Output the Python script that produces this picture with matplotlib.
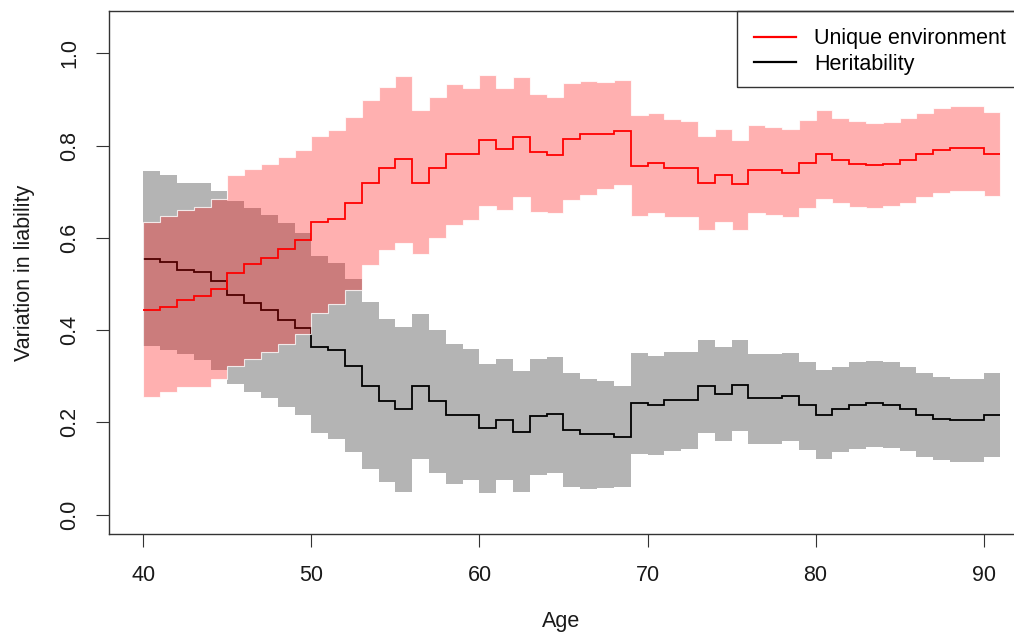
import numpy as np
import matplotlib.pyplot as plt
from matplotlib.patches import Rectangle

plt.rcParams['font.family'] = ['Liberation Sans', 'DejaVu Sans']

ages = np.arange(40, 92)  # step edges, one step per year 40..90

# unique environment (red)
env_mid = [0.443, 0.450, 0.466, 0.474, 0.490, 0.523, 0.544, 0.557, 0.575, 0.595,
           0.635, 0.642, 0.676, 0.718, 0.752, 0.771, 0.719, 0.752, 0.781, 0.781,
           0.813, 0.792, 0.819, 0.787, 0.779, 0.814, 0.825, 0.826, 0.832, 0.756,
           0.763, 0.752, 0.751, 0.719, 0.736, 0.716, 0.747, 0.747, 0.741, 0.763,
           0.783, 0.770, 0.761, 0.758, 0.761, 0.769, 0.782, 0.790, 0.794, 0.794,
           0.782]
env_hi = [0.635, 0.647, 0.660, 0.667, 0.685, 0.736, 0.750, 0.761, 0.775, 0.790,
          0.822, 0.834, 0.862, 0.900, 0.928, 0.951, 0.877, 0.906, 0.933, 0.926,
          0.953, 0.926, 0.949, 0.913, 0.906, 0.936, 0.941, 0.938, 0.942, 0.866,
          0.870, 0.857, 0.854, 0.821, 0.837, 0.813, 0.845, 0.841, 0.836, 0.855,
          0.877, 0.861, 0.853, 0.850, 0.852, 0.859, 0.871, 0.881, 0.886, 0.886,
          0.872]
env_lo = [0.254, 0.266, 0.277, 0.277, 0.295, 0.322, 0.338, 0.352, 0.370, 0.392,
          0.437, 0.457, 0.488, 0.541, 0.573, 0.589, 0.566, 0.599, 0.628, 0.638,
          0.669, 0.660, 0.688, 0.656, 0.654, 0.682, 0.693, 0.707, 0.714, 0.648,
          0.653, 0.646, 0.646, 0.618, 0.635, 0.618, 0.653, 0.649, 0.646, 0.664,
          0.685, 0.676, 0.667, 0.665, 0.669, 0.676, 0.689, 0.698, 0.702, 0.702,
          0.690]

# heritability (black)
her_mid = [0.555, 0.548, 0.531, 0.526, 0.507, 0.477, 0.458, 0.443, 0.423, 0.405,
           0.364, 0.357, 0.322, 0.278, 0.246, 0.228, 0.278, 0.246, 0.217, 0.217,
           0.188, 0.206, 0.179, 0.213, 0.219, 0.184, 0.174, 0.174, 0.168, 0.242,
           0.237, 0.249, 0.249, 0.278, 0.261, 0.282, 0.252, 0.252, 0.257, 0.237,
           0.215, 0.228, 0.237, 0.241, 0.237, 0.230, 0.217, 0.208, 0.205, 0.205,
           0.217]
her_hi = [0.745, 0.736, 0.720, 0.720, 0.701, 0.680, 0.664, 0.650, 0.632, 0.610,
          0.560, 0.545, 0.510, 0.461, 0.425, 0.407, 0.434, 0.400, 0.371, 0.359,
          0.326, 0.337, 0.311, 0.338, 0.342, 0.306, 0.294, 0.289, 0.278, 0.351,
          0.343, 0.353, 0.353, 0.378, 0.364, 0.378, 0.348, 0.348, 0.351, 0.331,
          0.313, 0.320, 0.330, 0.333, 0.330, 0.320, 0.308, 0.298, 0.295, 0.295,
          0.307]
her_lo = [0.366, 0.356, 0.349, 0.335, 0.313, 0.284, 0.265, 0.252, 0.233, 0.215,
          0.176, 0.165, 0.135, 0.098, 0.071, 0.049, 0.120, 0.090, 0.066, 0.076,
          0.047, 0.076, 0.049, 0.085, 0.090, 0.060, 0.056, 0.058, 0.060, 0.132,
          0.129, 0.139, 0.142, 0.176, 0.160, 0.181, 0.154, 0.154, 0.159, 0.141,
          0.121, 0.136, 0.143, 0.147, 0.145, 0.138, 0.126, 0.118, 0.114, 0.114,
          0.126]

fig = plt.figure(figsize=(10.14, 6.36), dpi=100)
ax = fig.add_axes([0.1075, 0.1604, 0.913, 0.8223])

ax.stairs(her_hi, ages, baseline=her_lo, fill=True, color='#b4b4b4', lw=0, zorder=1)
ax.stairs(her_mid, ages, baseline=None, color='black', lw=1.3, zorder=2)
ax.stairs(env_hi, ages, baseline=env_lo, fill=True, facecolor=(1, 0, 0, 0.31),
          edgecolor=(1, 1, 1, 0.8), lw=0.8, zorder=3)
ax.stairs(env_mid, ages, baseline=None, color='red', lw=1.3, zorder=4)

ax.set_xlim(37.96, 93.04)
ax.set_ylim(-0.042, 1.092)
ax.set_xticks([40, 50, 60, 70, 80, 90])
ax.set_yticks([0, 0.2, 0.4, 0.6, 0.8, 1.0])
ax.set_yticklabels(['0.0', '0.2', '0.4', '0.6', '0.8', '1.0'], rotation=90, va='center')

for s in ax.spines.values():
    s.set_color('#333333')
    s.set_linewidth(1.0)
ax.tick_params(length=9.5, width=0.8, color='#333333', labelsize=15.5,
               labelcolor='#1a1a1a')
ax.tick_params(axis='x', pad=13)
ax.tick_params(axis='y', pad=11)

ax.set_xlabel('Age', fontsize=15.5, color='#1a1a1a')
ax.set_ylabel('Variation in liability', fontsize=15.5, color='#1a1a1a')
ax.xaxis.set_label_coords(0.5 * (1014 - 109) / 925.8, -0.147)
ax.yaxis.set_label_coords(-0.080, 0.5)

# legend box, anchored top right like R's legend("topright")
lx = 0.678
ly = 0.8547
ax.add_patch(Rectangle((lx, ly), 1 - lx, 1 - ly, transform=ax.transAxes,
                       fill=False, ec='#333333', lw=1.0, zorder=5, clip_on=False))
h1, = ax.plot([], [], color='red', lw=1.6)
h2, = ax.plot([], [], color='black', lw=1.6)
ax.legend([h1, h2], ['Unique environment', 'Heritability'], loc='upper left',
          bbox_to_anchor=(lx, 1.0), frameon=False, fontsize=15.5,
          handlelength=1.95, handletextpad=0.85, labelspacing=0.2,
          borderaxespad=0, borderpad=0.8)

fig.savefig('out.png', dpi=100)
